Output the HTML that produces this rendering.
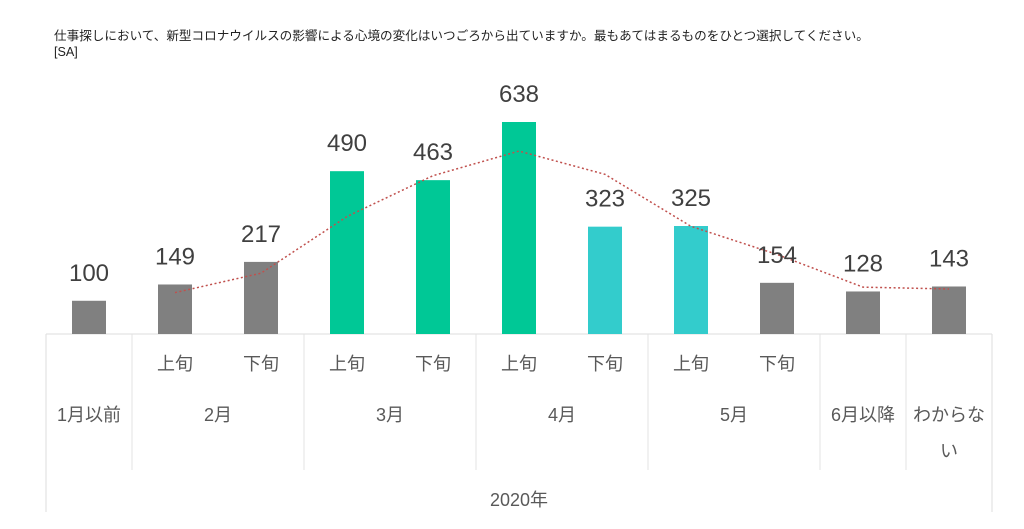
<!DOCTYPE html>
<html><head><meta charset="utf-8"><style>
body{margin:0;background:#fff;width:1024px;height:524px;overflow:hidden;font-family:"Liberation Sans","Noto Sans CJK JP",sans-serif}
svg text{font-family:"Liberation Sans","Noto Sans CJK JP",sans-serif}
</style></head><body>
<svg width="1024" height="524">
<text x="54" y="40" font-size="12.6" fill="#222">仕事探しにおいて、新型コロナウイルスの影響による心境の変化はいつごろから出ていますか。最もあてはまるものをひとつ選択してください。</text>
<text x="54" y="56" font-size="12.6" fill="#222">[SA]</text>
<g id="grid"></g><g id="bars"></g><g id="labels"></g><g id="axis"></g>
</svg>
<script>
const categories=["1月以前","2月上旬","2月下旬","3月上旬","3月下旬","4月上旬","4月下旬","5月上旬","5月下旬","6月以降","わからない"];
const values=[100,149,217,490,463,638,323,325,154,128,143];
const colors=["#808080","#808080","#808080","#00C896","#00C896","#00C896","#33CCCC","#33CCCC","#808080","#808080","#808080"];
const subLabels=["","上旬","下旬","上旬","下旬","上旬","下旬","上旬","下旬","",""];
const groups=[{label:"1月以前",from:0,to:0},{label:"2月",from:1,to:2},{label:"3月",from:3,to:4},{label:"4月",from:5,to:6},{label:"5月",from:7,to:8},{label:"6月以降",from:9,to:9},{label:"わからな",label2:"い",from:10,to:10}];
const NS="http://www.w3.org/2000/svg";
const L=46,R=992,base=334,k=212/638,step=(R-L)/categories.length,bw=34;
const x=i=>L+step*i+step/2, y=v=>base-v*k;
function mk(t,a,p){const e=document.createElementNS(NS,t);for(const n in a)e.setAttribute(n,a[n]);document.getElementById(p).appendChild(e);return e;}
values.forEach((v,i)=>{
 const r=mk("rect",{x:x(i)-bw/2,y:y(v),width:bw,height:v*k,fill:colors[i]},"bars");
 
 
 const t=mk("text",{x:x(i),y:y(v)-20,"font-size":24,fill:"#404040","text-anchor":"middle"},"labels");
 t.textContent=v;
 
 
 if(subLabels[i]){const s=mk("text",{x:x(i),y:370,"font-size":18,fill:"#595959","text-anchor":"middle"},"axis");s.textContent=subLabels[i];
 
 }
});
// 2-period moving average trendline
let pts=[];for(let i=1;i<values.length;i++)pts.push(x(i)+","+y((values[i]+values[i-1])/2));
const pl=mk("polyline",{points:pts.join(" "),fill:"none",stroke:"#C0504D","stroke-width":1.5,"stroke-dasharray":"2,2.5"},"bars");


mk("line",{x1:L,y1:base,x2:R,y2:base,stroke:"#ddd"},"grid");
mk("line",{x1:L,y1:base,x2:L,y2:512,stroke:"#ddd"},"grid");
mk("line",{x1:R,y1:base,x2:R,y2:512,stroke:"#ddd"},"grid");
groups.forEach((g,j)=>{
 if(j>0){const xe=L+step*g.from;mk("line",{x1:xe,y1:base,x2:xe,y2:470,stroke:"#e3e3e3"},"grid");}
 const cx=(x(g.from)+x(g.to))/2;
 const t=mk("text",{x:cx,y:421,"font-size":18,fill:"#595959","text-anchor":"middle"},"axis");t.textContent=g.label;
 
 
 if(g.label2){const t2=mk("text",{x:cx,y:457,"font-size":18,fill:"#595959","text-anchor":"middle"},"axis");t2.textContent=g.label2;
 
 }
});
const yr=mk("text",{x:(L+R)/2,y:506,"font-size":18,fill:"#595959","text-anchor":"middle"},"axis");yr.textContent="2020年";


</script>
</body></html>
